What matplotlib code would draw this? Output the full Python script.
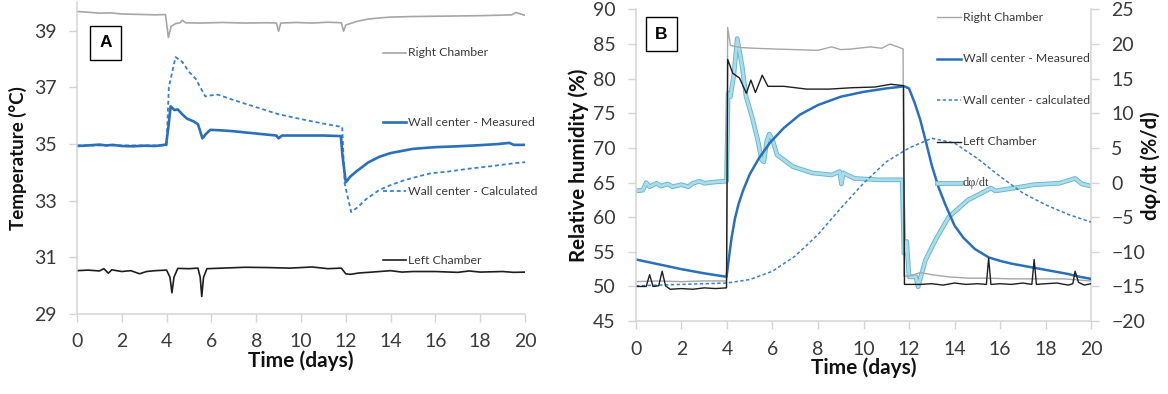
import matplotlib
matplotlib.use("Agg")
import matplotlib.pyplot as plt
import matplotlib.patheffects as pe

plt.rcParams['font.family'] = ['Lato', 'DejaVu Sans']

# ---- Panel A: temperature (deg C) ----
t_right_a = [0, 0.5, 1.0, 1.5, 2.0, 2.5, 3.0, 3.5, 3.95, 4.08, 4.2, 4.4, 4.6, 4.7, 4.85, 5.5, 6.5,
             7.5, 8.5, 8.9, 9.0, 9.1, 9.8, 10.5, 11.2, 11.8, 11.9, 12.0, 12.5, 13.0, 13.5, 14.0,
             15.0, 16.0, 17.0, 18.0, 19.0, 19.4, 19.6, 20.0]
right_a = [39.68, 39.65, 39.62, 39.63, 39.59, 39.58, 39.57, 39.56, 39.57, 38.76, 39.15, 39.25,
           39.28, 39.37, 39.28, 39.27, 39.29, 39.27, 39.28, 39.27, 38.98, 39.27, 39.29, 39.27,
           39.30, 39.28, 38.98, 39.20, 39.33, 39.41, 39.45, 39.48, 39.50, 39.51, 39.52, 39.53,
           39.55, 39.56, 39.64, 39.54]

t_meas_a = [0, 0.5, 1.0, 1.3, 1.6, 2.0, 2.5, 3.0, 3.5, 3.98, 4.08, 4.18, 4.35, 4.5, 4.7, 4.9,
            5.2, 5.4, 5.6, 5.75, 5.95, 6.5, 7.0, 8.0, 8.9, 9.0, 9.15, 10.0, 11.0, 11.78, 11.85,
            12.0, 12.2, 12.5, 13.0, 13.5, 14.0, 15.0, 16.0, 17.0, 18.0, 18.8, 19.3, 19.5, 20.0]
meas_a = [34.93, 34.95, 34.98, 34.95, 34.97, 34.93, 34.92, 34.94, 34.93, 34.98, 35.60, 36.33,
          36.20, 36.22, 36.05, 35.90, 35.80, 35.70, 35.20, 35.35, 35.50, 35.48, 35.45, 35.37,
          35.30, 35.20, 35.30, 35.30, 35.30, 35.28, 34.60, 33.65, 33.85, 34.05, 34.35, 34.55,
          34.68, 34.83, 34.89, 34.92, 34.96, 35.00, 35.04, 34.97, 34.97]

t_calc_a = [0, 4.0, 4.1, 4.4, 4.7, 5.0, 5.3, 5.73, 6.0, 6.3, 7.0, 8.0, 9.0, 10.0, 11.0, 11.84,
            11.95, 12.24, 12.5, 12.9, 13.5, 14.0, 14.6, 15.2, 15.8, 16.5, 17.5, 18.5, 19.5, 20.0]
calc_a = [34.95, 34.95, 37.00, 38.07, 37.90, 37.55, 37.30, 36.68, 36.72, 36.74, 36.55, 36.30,
          36.05, 35.88, 35.72, 35.60, 33.60, 32.60, 32.75, 33.05, 33.38, 33.55, 33.72, 33.85,
          33.97, 34.02, 34.13, 34.22, 34.32, 34.36]

t_left_a = [0, 0.5, 1.0, 1.2, 1.4, 1.55, 2.0, 2.4, 2.8, 3.1, 3.5, 4.0, 4.15, 4.24, 4.33, 4.5,
            5.0, 5.4, 5.5, 5.57, 5.65, 5.8, 6.5, 7.5, 8.5, 9.5, 10.5, 11.2, 11.8, 12.0, 12.2,
            12.6, 13.0, 13.5, 14.0, 14.5, 15.0, 16.0, 17.0, 17.5, 18.0, 19.0, 19.5, 20.0]
left_a = [30.53, 30.55, 30.52, 30.60, 30.44, 30.56, 30.50, 30.53, 30.42, 30.50, 30.53, 30.55,
          30.30, 29.75, 30.30, 30.61, 30.60, 30.62, 30.30, 29.62, 30.30, 30.60, 30.62, 30.65,
          30.64, 30.62, 30.66, 30.60, 30.62, 30.42, 30.40, 30.45, 30.47, 30.50, 30.53, 30.48,
          30.50, 30.50, 30.47, 30.52, 30.48, 30.50, 30.47, 30.48]

# ---- Panel B: relative humidity (%) and its rate (%/d) ----
t_right_b = [0, 1, 2, 3, 3.98, 4.03, 4.15, 4.6, 5.2, 6.0, 7.0, 8.0, 8.6, 9.0, 9.5, 10.3, 10.8,
             11.16, 11.5, 11.74, 11.78, 12.0, 12.5, 13.0, 13.7, 14.6, 15.4, 16.5, 17.5, 18.8, 20.0]
right_b = [50.7, 50.8, 50.7, 50.8, 50.8, 87.4, 84.8, 84.5, 84.4, 84.3, 84.2, 84.1, 84.6, 84.2,
           84.3, 84.6, 84.4, 85.0, 84.6, 84.3, 51.5, 51.5, 52.0, 51.7, 51.4, 51.2, 51.2, 51.1,
           51.1, 51.1, 50.8]

t_left_b = [0, 0.45, 0.6, 0.75, 1.0, 1.15, 1.3, 1.5, 2.0, 2.5, 3.0, 3.5, 3.98, 4.03, 4.25, 4.55,
            4.85, 5.05, 5.25, 5.55, 5.8, 6.5, 7.5, 8.5, 9.5, 10.5, 11.2, 11.76, 11.8, 12.5, 13.0,
            13.5, 14.0, 14.5, 15.0, 15.4, 15.5, 15.6, 16.0, 16.5, 17.0, 17.4, 17.5, 17.6, 18.0,
            18.5, 19.0, 19.2, 19.3, 19.45, 19.7, 20.0]
left_b = [50.0, 50.0, 51.7, 50.0, 50.1, 52.2, 50.1, 49.6, 49.7, 49.6, 49.8, 49.7, 49.8, 82.8,
          80.8, 80.1, 77.9, 79.8, 78.0, 80.5, 78.9, 78.9, 78.5, 78.5, 78.7, 78.8, 79.2, 79.0,
          50.3, 50.3, 50.4, 50.2, 50.5, 50.3, 50.4, 50.3, 54.1, 50.3, 50.4, 50.3, 50.5, 50.3,
          53.9, 50.3, 50.4, 50.5, 50.2, 50.4, 52.2, 50.6, 50.2, 50.4]

t_meas_b = [0, 1, 2, 3, 3.98, 4.1, 4.2, 4.35, 4.5, 4.7, 5.0, 5.4, 5.9, 6.5, 7.2, 8.0, 9.0, 10.0,
            11.0, 11.8, 12.0, 12.25, 12.5, 12.75, 13.0, 13.3, 13.6, 14.0, 14.4, 14.9, 15.5, 16.0,
            16.5, 17.0, 17.5, 18.0, 18.5, 19.0, 19.5, 20.0]
meas_b = [53.9, 53.2, 52.5, 51.9, 51.4, 54.5, 57.0, 59.8, 61.8, 63.8, 66.2, 68.5, 70.8, 72.9,
          74.8, 76.2, 77.4, 78.1, 78.6, 78.9, 78.6, 76.5, 74.0, 70.8, 67.5, 64.3, 61.8, 58.8,
          57.0, 55.4, 54.2, 53.7, 53.3, 53.0, 52.7, 52.4, 52.1, 51.8, 51.4, 51.1]

t_calc_b = [0, 2, 4, 5, 6, 7, 8, 9, 10, 11, 12, 13, 14, 15, 16, 17, 18, 19, 20]
calc_b = [50.1, 50.3, 50.5, 51.0, 52.2, 54.4, 57.5, 61.3, 64.9, 68.0, 70.0, 71.4, 70.7, 68.5,
          65.9, 63.5, 61.8, 60.4, 59.3]

t_rate = [0, 0.3, 0.45, 0.6, 0.9, 1.1, 1.4, 1.6, 2.0, 2.3, 2.5, 2.8, 3.0, 3.5, 3.98, 4.05, 4.15,
          4.3, 4.45, 4.67, 4.84, 5.1, 5.35, 5.52, 5.62, 5.75, 5.86, 6.0, 6.2, 6.9, 7.74, 8.6,
          8.95, 9.03, 9.1, 9.6, 10.65, 11.7, 11.78, 11.9, 12.0, 12.3, 12.4, 12.72, 13.16, 13.75,
          14.6, 15.2, 15.6, 15.8, 16.6, 17.5, 18.6, 19.3, 19.6, 20.0]
rate = [-1.2, -1.1, 0.0, -0.6, -0.1, -0.5, -0.2, -0.6, -0.3, -0.6, -0.1, 0.2, -0.1, 0.1, 0.2,
        12.9, 12.4, 15.5, 20.8, 16.7, 12.4, 9.5, 6.2, 3.3, 3.0, 6.0, 7.0, 6.2, 4.0, 2.3, 1.4,
        1.1, 1.6, -0.2, 1.4, 0.6, 0.4, 0.4, -10.2, -8.5, -13.6, -13.6, -15.05, -11.2, -8.3,
        -4.95, -2.5, -1.5, -0.8, -1.2, -0.8, -0.3, -0.1, 0.6, -0.2, -0.5]

x_ticks = list(range(0, 21, 2))

# line styles shared by curves and their legend keys
GREY = dict(color='#a6a6a6', lw=1.2)
BLACK = dict(color='#1e1e1e', lw=1.2)
GREY_B = dict(color='#a6a6a6', lw=1.0)
BLACK_B = dict(color='#1e1e1e', lw=1.0)
MEAS_A = dict(color='#2a6fb8', lw=1.9)
CALC_A = dict(color='#3b7fc6', lw=1.3, ls=(0, (2.2, 1.6)))
MEAS_B = dict(color='#2a6fb8', lw=1.8)
CALC_B = dict(color='#3b7fc6', lw=1.1, ls=(0, (2.2, 1.6)))
RATE = dict(color='#acdcea', lw=2.0,
            path_effects=[pe.Stroke(linewidth=3.4, foreground='#6ab8cf'), pe.Normal()])

TXT = '#3a3a3a'
LABEL = '#111111'
SPINE = '#d4d4d4'
TICK_SIZE = 14


def style_axis(ax):
    for side in ('top', 'right'):
        ax.spines[side].set_visible(False)
    for side in ('left', 'bottom'):
        ax.spines[side].set_color(SPINE)
        ax.spines[side].set_linewidth(1.1)
    ax.tick_params(axis='both', colors=SPINE, labelcolor=TXT, labelsize=TICK_SIZE,
                   length=6, width=1.0)
    ax.tick_params(axis='x', pad=8)
    ax.tick_params(axis='y', pad=8.5)
    ax.set_xlim(0, 20)
    ax.set_xticks(x_ticks)
    ax.set_xlabel('Time (days)', fontsize=15, fontweight='bold', color=LABEL, labelpad=0)


def inline_legend(ax, entries, x0, y0, dy, size=8.8):
    for i, (label, kw, family) in enumerate(entries):
        y = y0 - i * dy
        ax.plot([x0, x0 + 0.052], [y, y], transform=ax.transAxes, clip_on=False, **kw)
        ax.text(x0 + 0.056, y, label, transform=ax.transAxes, va='center', ha='left',
                fontsize=size, color=TXT, family=family)


def panel_tag(ax, letter, x, y):
    ax.text(x, y, letter, transform=ax.transAxes, ha='center', va='center', fontsize=12.5,
            fontweight='bold', color='black', family='Liberation Sans',
            bbox=dict(boxstyle='square,pad=0.55', fc='white', ec='black', lw=1.0))


fig = plt.figure(figsize=(11.68, 3.94), dpi=100)

# ---- A ----
ax_a = fig.add_axes([0.0659, 0.203, 0.3836, 0.791])
ax_a.plot(t_right_a, right_a, **GREY)
ax_a.plot(t_calc_a, calc_a, **CALC_A)
ax_a.plot(t_meas_a, meas_a, **MEAS_A)
ax_a.plot(t_left_a, left_a, **BLACK)
style_axis(ax_a)
ax_a.set_ylim(29, 40)
ax_a.set_yticks([29, 31, 33, 35, 37, 39])
ax_a.set_ylabel('Temperature (°C)', fontsize=13.5, fontweight='bold', color=LABEL, labelpad=5)
inline_legend(ax_a, [('Right Chamber', GREY, None),
                     ('Wall center - Measured', MEAS_A, None),
                     ('Wall center - Calculated', CALC_A, None),
                     ('Left Chamber', BLACK, None)],
              0.683, 0.838, 0.222)
panel_tag(ax_a, 'A', 0.064, 0.870)

# ---- B ----
ax_b = fig.add_axes([0.5445, 0.185, 0.3896, 0.791])
ax_r = ax_b.twinx()
ax_r.set_zorder(ax_b.get_zorder() - 1)
ax_b.patch.set_visible(False)

ax_r.plot(t_rate, rate, **RATE)
ax_b.plot(t_right_b, right_b, **GREY_B)
ax_b.plot(t_calc_b, calc_b, **CALC_B)
ax_b.plot(t_meas_b, meas_b, **MEAS_B)
ax_b.plot(t_left_b, left_b, **BLACK_B)

style_axis(ax_b)
ax_b.set_ylim(45, 90)
ax_b.set_yticks(range(45, 91, 5))
ax_b.set_ylabel('Relative humidity (%)', fontsize=14.8, fontweight='bold', color=LABEL,
                labelpad=3)

for side in ('top', 'left', 'bottom'):
    ax_r.spines[side].set_visible(False)
ax_r.spines['right'].set_color(SPINE)
ax_r.spines['right'].set_linewidth(1.1)
ax_r.tick_params(axis='y', colors=SPINE, labelcolor=TXT, labelsize=TICK_SIZE, length=6,
                 width=1.0, pad=8.5)
ax_r.set_ylim(-20, 25)
ax_r.set_yticks(range(-20, 26, 5))
ax_r.set_ylabel('dφ/dt (%/d)', fontsize=14.5, fontweight='bold', color=LABEL)
ax_r.yaxis.set_label_coords(1.108, 0.5)

inline_legend(ax_b, [('Right Chamber', GREY_B, None),
                     ('Wall center - Measured', MEAS_B, None),
                     ('Wall center - calculated', CALC_B, None),
                     ('Left Chamber', BLACK_B, None),
                     ('dφ/dt', RATE, 'Liberation Serif')],
              0.662, 0.975, 0.133)
panel_tag(ax_b, 'B', 0.056, 0.921)

fig.savefig('out.png', dpi=100, facecolor='white')
